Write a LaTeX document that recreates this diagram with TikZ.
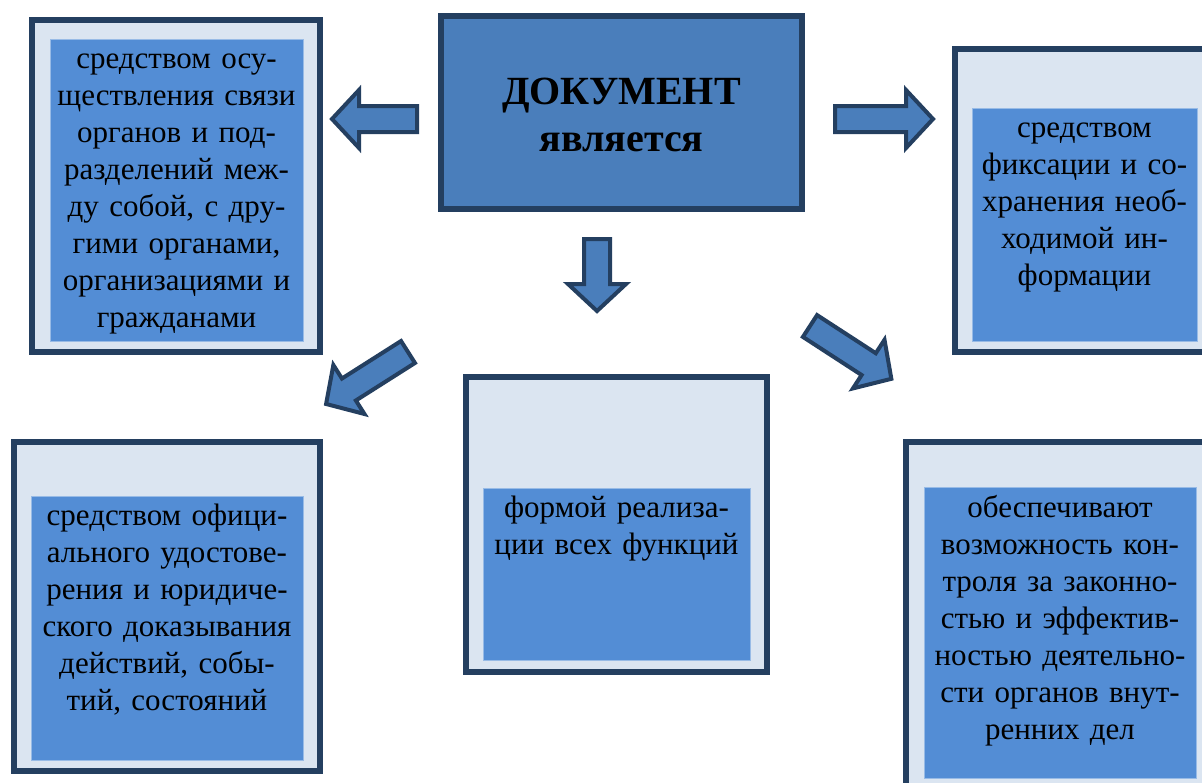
\documentclass[tikz,border=0pt]{standalone}
\usepackage{fontspec}
\setmainfont{Liberation Serif}
\definecolor{boxborder}{HTML}{243F60}
\definecolor{boxlight}{HTML}{DBE5F1}
\definecolor{boxblue}{HTML}{538DD5}
\definecolor{docblue}{HTML}{4A7EBB}
\tikzset{
  outerbox/.style={draw=boxborder, fill=boxlight, line width=6pt, inner sep=0pt},
  innerbox/.style={draw=boxblue!60!white, fill=boxblue, line width=1pt, inner sep=0pt},
  boxtext/.style={anchor=base, align=center, inner sep=0pt, font=\fontsize{31}{37}\selectfont},
  doctext/.style={anchor=base, inner sep=0pt, font=\fontsize{40}{47}\selectfont\bfseries},
  blockarrow/.style={draw=boxborder, fill=docblue, line width=4pt}
}
\begin{document}
\begin{tikzpicture}[x=1pt, y=-1pt]
\useasboundingbox (0,0) rectangle (1202,782);
\fill[white] (0,0) rectangle (1202,782);
\clip (0,0) rectangle (1202,782);

% Central box
\node[outerbox, fill=docblue, minimum width=361pt, minimum height=193pt] (doc) at (621.5,112.5) {};
\node[doctext] (docTitle) at (621.5,104) {ДОКУМЕНТ};
\node[doctext] (docVerb) at (621.5,151) {является};

% Top left box
\node[outerbox, minimum width=288pt, minimum height=332pt] (link) at (176,186) {};
\node[innerbox, minimum width=253pt, minimum height=302pt] (linkIn) at (176.5,190) {};
\node[boxtext, text width=253pt] (linkTxt) at (176.5,68) {средством осу-\\ществления связи\\органов и под-\\разделений меж-\\ду собой, с дру-\\гими органами,\\организациями и\\гражданами};

% Top right box
\node[outerbox, minimum width=260pt, minimum height=303pt] (fix) at (1085,200.5) {};
\node[innerbox, minimum width=225pt, minimum height=233pt] (fixIn) at (1084.5,224.5) {};
\node[boxtext, text width=225pt] (fixTxt) at (1084.5,137) {средством\\фиксации и со-\\хранения необ-\\ходимой ин-\\формации};

% Bottom left box
\node[outerbox, minimum width=306pt, minimum height=329pt] (proof) at (167,606.5) {};
\node[innerbox, minimum width=272pt, minimum height=264pt] (proofIn) at (167,628) {};
\node[boxtext, text width=272pt] (proofTxt) at (167,525) {средством офици-\\ального удостове-\\рения и юридиче-\\ского доказывания\\действий, собы-\\тий, состояний};

% Bottom centre box
\node[outerbox, minimum width=301pt, minimum height=295pt] (form) at (616.5,524.5) {};
\node[innerbox, minimum width=267pt, minimum height=172pt] (formIn) at (616.5,574) {};
\node[boxtext, text width=267pt] (formTxt) at (616.5,517) {формой реализа-\\ции всех функций};

% Bottom right box
\node[outerbox, minimum width=309pt, minimum height=358pt] (control) at (1060.5,621) {};
\node[innerbox, minimum width=272pt, minimum height=291pt] (controlIn) at (1060,632.5) {};
\node[boxtext, text width=272pt] (controlTxt) at (1060,517) {обеспечивают\\возможность кон-\\троля за законно-\\стью и эффектив-\\ностью деятельно-\\сти органов внут-\\ренних дел};

% Block arrows: tail x / tail y / direction / length
\foreach \tx/\ty/\ang/\len in {417/119/180/85, 835/119/0/98, 597/239/-90/72, 408/352/212.4/97, 810/326/-33/97} {
    \draw[blockarrow, shift={(\tx,\ty)}, rotate=\ang] (0,-13) -- (\len-27,-13) -- (\len-27,-29) -- (\len,0) -- (\len-27,29) -- (\len-27,13) -- (0,13) -- cycle;
}

\end{tikzpicture}
\end{document}
